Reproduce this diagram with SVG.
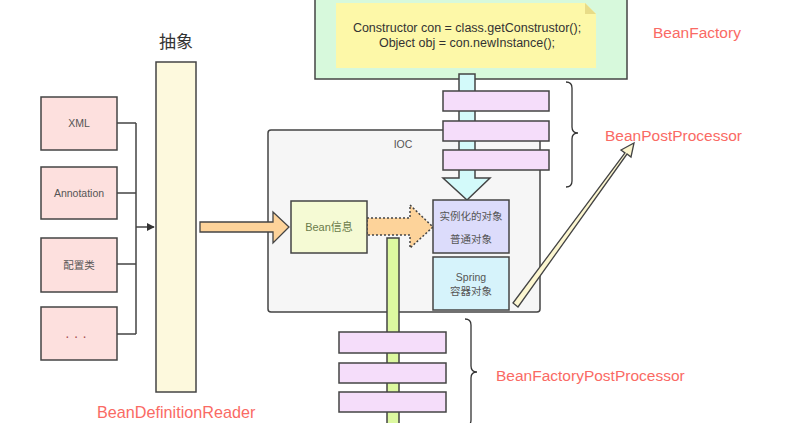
<svg xmlns="http://www.w3.org/2000/svg" width="803" height="423" viewBox="0 0 803 423">
<defs>
<style>
.box{stroke:#444;stroke-width:1.5}
.src{fill:#fde0de}
.pink{fill:#f5ddfa;stroke:#444;stroke-width:1.5}
.lbl{font-family:"Liberation Sans","Noto Sans CJK SC",sans-serif;font-size:10.5px;fill:#555;text-anchor:middle}
.red{font-family:"Liberation Sans",sans-serif;font-size:15.5px;fill:#fa6a64}
.code{font-family:"Liberation Sans",sans-serif;font-size:12.5px;fill:#333;text-anchor:middle}
.line{fill:none;stroke:#444;stroke-width:1.5}
.brace{fill:none;stroke:#333;stroke-width:1.3}
</style>
<marker id="ah" viewBox="0 0 10 10" refX="9" refY="5" markerWidth="8" markerHeight="8" markerUnits="userSpaceOnUse" orient="auto"><path d="M0,0 L10,5 L0,10 z" fill="#333"/></marker>
</defs>
<rect width="803" height="423" fill="#fff"/>

<g id="beanfactory">
<rect x="315" y="-10" width="312" height="89" fill="#d7f9dc" class="box"/>
<path d="M336,3 H585 L596,14 V68 H336 Z" fill="#fdf8a8"/>
<path d="M585,3 L596,14 H585 Z" fill="#e8dc88"/>
<text class="code" x="467" y="32">Constructor con = class.getConstrustor();</text>
<text class="code" x="467" y="47">Object obj = con.newInstance();</text>
</g>
<text class="red" x="653" y="38">BeanFactory</text>

<g id="ioc">
<rect x="268" y="130" width="272" height="182" rx="3" fill="#f6f6f6" class="box"/>
<text class="lbl" x="403" y="148">IOC</text>
</g>

<g id="cyan-arrow">
<path d="M459,74 H475 V178 H490 L467,200 L443,178 H459 Z" fill="#d3fafa" stroke="#444" stroke-width="1.5"/>
</g>

<g id="bpp-bars">
<rect x="443" y="91" width="106" height="20" class="pink"/>
<rect x="443" y="121" width="106" height="20" class="pink"/>
<rect x="443" y="150" width="106" height="20" class="pink"/>
</g>
<path class="brace" d="M566,82 Q572,82 572,88 V127 Q572,133 578,133 Q572,133 572,139 V181 Q572,187 566,187"/>
<text class="red" x="605" y="141">BeanPostProcessor</text>

<g id="reader">
<rect x="156" y="62" width="40" height="330" fill="#fdf9dd" class="box"/>
<text x="176" y="48" font-family="'Noto Sans CJK SC',sans-serif" font-size="17" fill="#333" text-anchor="middle">抽象</text>
</g>
<text class="red" x="97" y="418" font-size="16.2px" style="font-size:16.2px">BeanDefinitionReader</text>

<g id="xml"><rect x="41" y="97" width="76" height="53" class="box src"/><text class="lbl" x="79" y="127">XML</text></g>
<g id="annotation"><rect x="41" y="167" width="76" height="52" class="box src"/><text class="lbl" x="79" y="197">Annotation</text></g>
<g id="config"><rect x="41" y="238" width="76" height="54" class="box src"/><text class="lbl" x="79" y="269">配置类</text></g>
<g id="more"><rect x="41" y="307" width="76" height="53" class="box src"/><text class="lbl" x="76" y="341" style="font-size:14px;fill:#a55">· · ·</text></g>

<g id="connectors">
<path class="line" d="M117,123 H136 M117,193 H136 M117,264 H136 M117,334 H136 M136,123 V334"/>
<path class="line" d="M136,227 H154" marker-end="url(#ah)"/>
<path d="M200,222 H273 V212 L289,227 L273,243 V232 H200 Z" fill="#fdd39a" stroke="#444" stroke-width="1.3"/>
<path d="M367,218 H410 V205 L433,227 L410,248 V235 H367 Z" fill="#fdd39a" stroke="#444" stroke-width="1.5" stroke-dasharray="2,2"/>
<path d="M513,303 L625,153 L621,150 L634,143 L631,157 L627,154 L518,307 Z" fill="#fcf6d0" stroke="#444" stroke-width="1.3"/>
</g>

<g id="bean-info">
<rect x="291" y="201" width="76" height="52" fill="#f5fad4" class="box"/>
<text class="lbl" x="329" y="231" style="font-size:11px;fill:#6a7a4a">Bean信息</text>
</g>

<g id="instance">
<rect x="433" y="200" width="76" height="53" fill="#dcdcfb" class="box"/>
<text class="lbl" x="471" y="220">实例化的对象</text>
<text class="lbl" x="471" y="243">普通对象</text>
</g>

<g id="spring">
<rect x="433" y="257" width="76" height="53" fill="#d6f3fb" class="box"/>
<text class="lbl" x="471" y="281">Spring</text>
<text class="lbl" x="471" y="295">容器对象</text>
</g>

<g id="green-bar">
<rect x="387" y="238" width="12" height="200" fill="#dcf8a0" class="box"/>
</g>

<g id="bfpp-bars">
<rect x="339" y="332" width="107" height="21" class="pink"/>
<rect x="339" y="363" width="107" height="20" class="pink"/>
<rect x="339" y="392" width="107" height="20" class="pink"/>
</g>
<path class="brace" d="M465,319 Q471,319 471,325 V366 Q471,372 477,372 Q471,372 471,378 V420 Q471,426 465,426"/>
<text class="red" x="496" y="381">BeanFactoryPostProcessor</text>
</svg>
